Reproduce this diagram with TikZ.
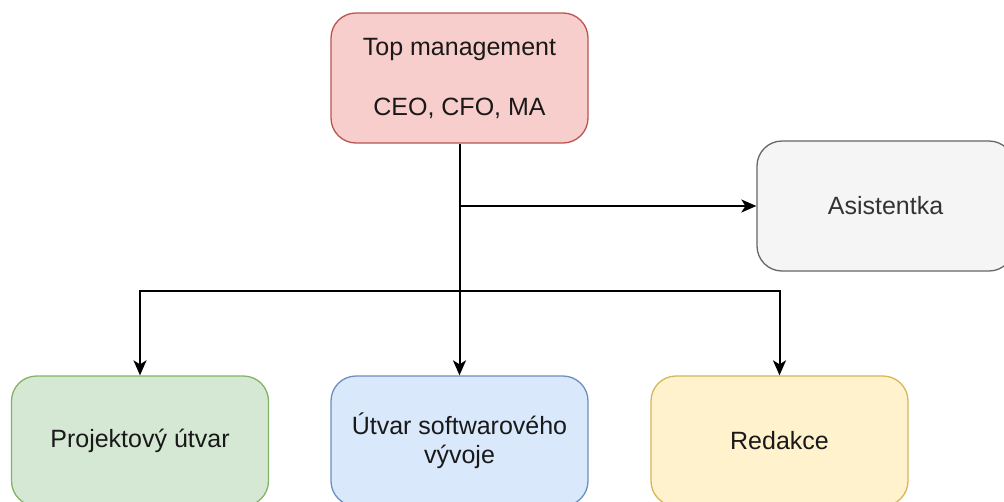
\documentclass[tikz,border=0pt]{standalone}
\usepackage{fontspec}
\setmainfont{Liberation Sans}
\usetikzlibrary{arrows.meta}
\definecolor{redf}{HTML}{F8CECC}\definecolor{redd}{HTML}{B85450}
\definecolor{grayf}{HTML}{F5F5F5}\definecolor{grayd}{HTML}{666666}
\definecolor{greenf}{HTML}{D5E8D4}\definecolor{greend}{HTML}{82B366}
\definecolor{bluef}{HTML}{DAE8FC}\definecolor{blued}{HTML}{6C8EBF}
\definecolor{yelf}{HTML}{FFF2CC}\definecolor{yeld}{HTML}{D6B656}
\definecolor{txtgray}{HTML}{333333}
\tikzset{
  box/.style={rectangle, rounded corners=25pt, minimum width=257pt, minimum height=130pt,
    line width=1.3pt, align=center, inner sep=0pt, font=\fontsize{25}{30}\selectfont, text=black!90},
  arr/.style={line width=2pt, -{Stealth[length=15pt,width=13pt,inset=4pt]}}
}
\begin{document}
\begin{tikzpicture}[x=1pt,y=-1pt]
\useasboundingbox (0,0) rectangle (1004,501);
\clip (0,0) rectangle (1004,501);
\node[box, fill=redf, draw=redd] (top) at (459.5,78) {Top management\\[30pt]CEO, CFO, MA};
\node[box, fill=grayf, draw=grayd, text=txtgray] (asis) at (885.5,206) {Asistentka};
\node[box, fill=greenf, draw=greend] (proj) at (140,441) {Projektový útvar};
\node[box, fill=bluef, draw=blued, font=\fontsize{25}{29}\selectfont] (soft) at (459.5,441) {Útvar softwarového\\vývoje};
\node[box, fill=yelf, draw=yeld] (red) at (779.5,441) {Redakce};
\coordinate (hb) at (459.5,291);
\draw[arr] (top.south) -- (soft.north);
\draw[arr] (top.south |- asis.west) -- (asis.west);
\draw[arr] (hb) -| (proj.north);
\draw[arr] (hb) -| (red.north);
\end{tikzpicture}
\end{document}
